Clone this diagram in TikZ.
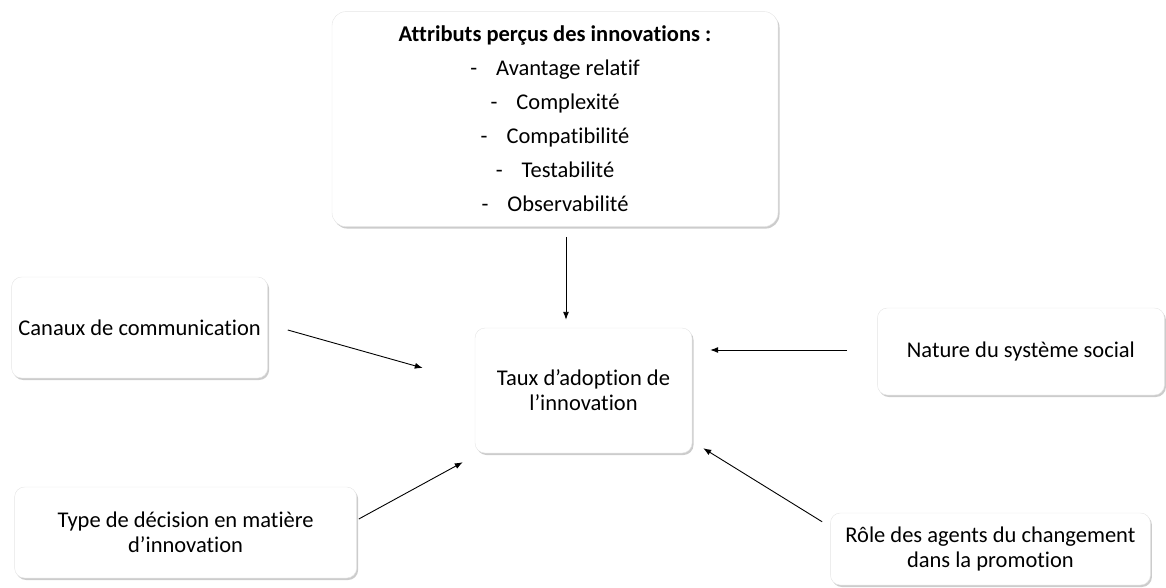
\documentclass[tikz,border=0pt]{standalone}
\usepackage{fontspec}
\setmainfont[Ligatures=NoCommon]{Carlito}
\usepackage{tikz}
\usetikzlibrary{positioning}
\usetikzlibrary{arrows.meta,shadows}

\begin{document}
\begin{tikzpicture}[x=1pt, y=-1pt, node distance=100pt,
    boite/.style={draw=black!10, fill=white, rounded corners=10pt, align=center, inner sep=2pt,
      font=\fontsize{22.5}{25}\selectfont,
      drop shadow={shadow xshift=1.5pt, shadow yshift=-2pt, opacity=0.4, fill=black!50}},
    fleche/.style={-{Latex[length=8pt,width=6pt]}, line width=0.9pt}]
      \useasboundingbox (0,0) rectangle (1166,588);
      % \draw[fill=white] (0,0) rectangle (1166,588);
      \node(t) [boite, minimum width=217pt, minimum height=125pt] at (583.5,390.5) {Taux d’adoption de\\l’innovation};
      \node(attr) [boite, above=101pt of t, xshift=-28.5pt, minimum width=446pt, minimum height=215pt,
        rounded corners=14pt, font=\fontsize{22.5}{34}\selectfont]
        {\textbf{Attributs perçus des innovations :}\\
         -\hspace{19pt}Avantage relatif\\
         -\hspace{19pt}Complexité\\
         -\hspace{19pt}Compatibilité\\
         -\hspace{19pt}Testabilité\\
         -\hspace{19pt}Observabilité};
      \node(canaux) [boite, left=207pt of t, yshift=63pt, minimum width=256pt, minimum height=101pt] {Canaux de communication};
      \node(nature) [boite, right=185pt of t, yshift=39pt, minimum width=287pt, minimum height=87pt] {Nature du système social};
      \node(type) [boite, left=118pt of t, yshift=-142pt, minimum width=342pt, minimum height=91pt] {Type de décision en matière\\d’innovation};
      \node(role) [boite, right=138pt of t, yshift=-158.5pt, minimum width=320pt, minimum height=72pt] {Rôle des agents du changement\\dans la promotion};

      \draw[fleche]([xshift=11pt,yshift=-10pt]attr.south) -- ([xshift=-17.5pt,yshift=8pt]t.north);
      \draw[fleche]([xshift=20pt,yshift=-2.5pt]canaux.east) -- ([xshift=-52pt,yshift=22.5pt]t.west);
      \draw[fleche]([xshift=-30pt,yshift=1.5pt]nature.west) -- ([xshift=18pt,yshift=40.5pt]t.east);
      \draw[fleche]([xshift=2pt,yshift=13.5pt]type.east) -- ([xshift=-12pt,yshift=-9pt]t.south west);
      \draw[fleche]([xshift=-8pt,yshift=-9pt]role.north west) -- ([xshift=11pt,yshift=5pt]t.south east);
    \end{tikzpicture}
\end{document}
